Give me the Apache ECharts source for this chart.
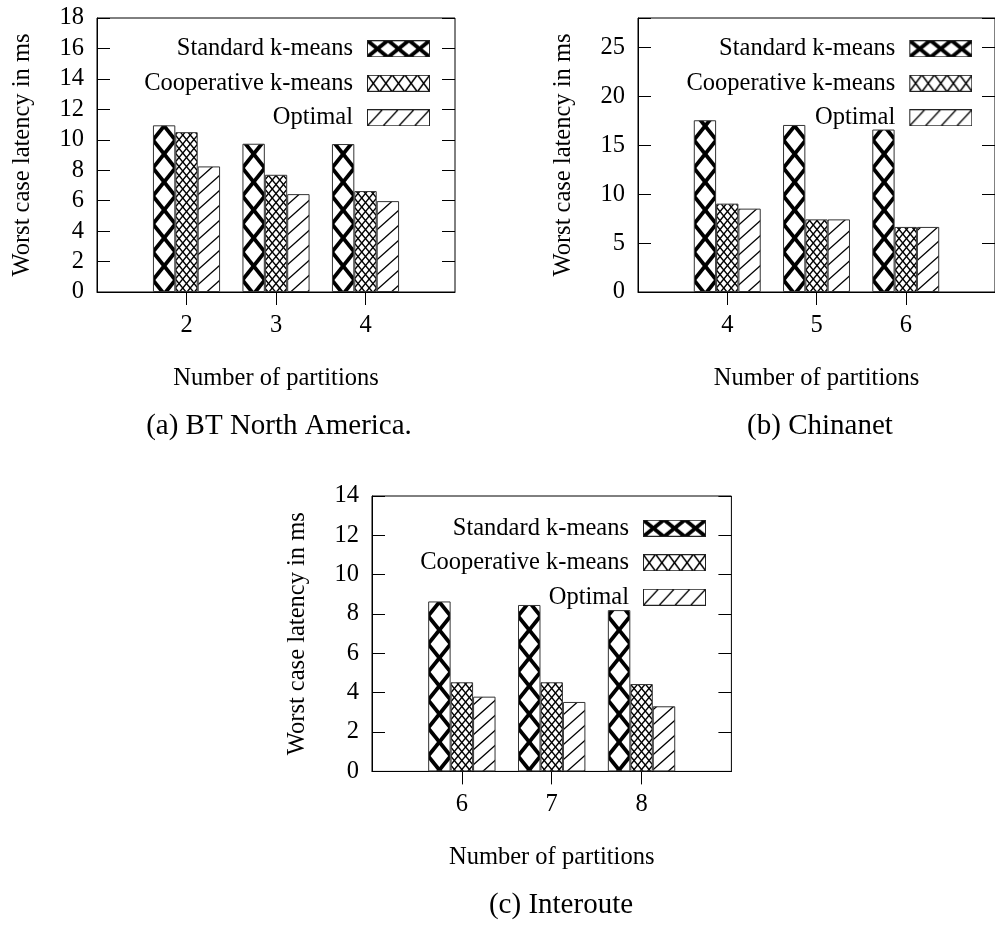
<!DOCTYPE html>
<html>
<head>
<meta charset="utf-8">
<script src="https://cdn.jsdelivr.net/npm/echarts@6/dist/echarts.min.js"></script>
<style>
html,body{margin:0;padding:0;background:#fff;}
#chart{width:995px;height:925px;}
</style>
</head>
<body>
<div id="chart"></div>
<script>
// ---------- data ----------
const seriesNames = ['Standard k-means', 'Cooperative k-means', 'Optimal'];

const catsA = [2, 3, 4];
const stdA  = [10.95, 9.74, 9.72];
const coopA = [10.5, 7.7, 6.63];
const optA  = [8.25, 6.43, 5.97];

const catsB = [4, 5, 6];
const stdB  = [17.55, 17.07, 16.6];
const coopB = [9.03, 7.42, 6.65];
const optB  = [8.52, 7.42, 6.65];

const catsC = [6, 7, 8];
const stdC  = [8.64, 8.46, 8.2];
const coopC = [4.53, 4.53, 4.44];
const optC  = [3.8, 3.53, 3.31];

const xLabel = 'Number of partitions';
const yLabel = 'Worst case latency in ms';
const captions = ['(a) BT North America.', '(b) Chinanet', '(c) Interoute'];

// ---------- layout / style ----------
const FONT = 'Liberation Serif';
const CW = 995;
const panels = [
  {cats: catsA, vals: [stdA, coopA, optA], xMin: 1, xMax: 5, yMax: 18, yStep: 2,
   grid: {left: 97, top: 18, width: 358, height: 274}, legRight: 565, legTop: 36.3,
   cap: captions[0], capX: 279, capY: 427},
  {cats: catsB, vals: [stdB, coopB, optB], xMin: 3, xMax: 7, yMax: 28, yStep: 5,
   grid: {left: 638, top: 18, width: 358, height: 274}, legRight: 22.7, legTop: 36.3,
   cap: captions[1], capX: 820, capY: 427},
  {cats: catsC, vals: [stdC, coopC, optC], xMin: 5, xMax: 9, yMax: 14, yStep: 2,
   grid: {left: 372, top: 496, width: 359.4, height: 275.4}, legRight: 289, legTop: 515.7,
   cap: captions[2], capX: 561, capY: 905.5}
];

// hatch pattern anchored at canvas origin; cells aligned to bar left edge x0
function hatch(kind, x0, cellW, tileH, lw) {
  const cv = document.createElement('canvas');
  cv.width = CW; cv.height = tileH;
  const ctx = cv.getContext('2d');
  ctx.fillStyle = '#fff';
  ctx.fillRect(0, 0, CW, tileH);
  ctx.strokeStyle = '#000';
  ctx.lineWidth = lw;
  const s = kind === 'diag' ? 20 / cellW : tileH / cellW;
  const fams = kind === 'diag' ? [-1] : [1, -1];
  fams.forEach(function (sign) {
    const span = CW * s + tileH * 4;
    const jmin = Math.floor(-span / tileH) - 2;
    const jmax = Math.ceil(span / tileH) + 2;
    for (let j = jmin; j <= jmax; j++) {
      const ya = sign * (0 - x0) * s + j * tileH;
      const yb = sign * (CW - x0) * s + j * tileH;
      if (Math.max(ya, yb) < -lw || Math.min(ya, yb) > tileH + lw) continue;
      ctx.beginPath();
      ctx.moveTo(0, ya);
      ctx.lineTo(CW, yb);
      ctx.stroke();
    }
  });
  return {image: cv, repeat: 'repeat'};
}

function legendIcon(kind) {
  const cv = document.createElement('canvas');
  cv.width = 72; cv.height = 17;
  const ctx = cv.getContext('2d');
  const bx = 9, bw = 63, bh = 17;
  ctx.save();
  ctx.beginPath();
  ctx.rect(bx, 0, bw, bh);
  ctx.fillStyle = '#fff';
  ctx.fill();
  ctx.clip();
  ctx.strokeStyle = '#000';
  if (kind === 'std' || kind === 'coop') {
    const n = kind === 'std' ? 3 : 5;
    const w = bw / n;
    ctx.lineWidth = kind === 'std' ? 3.8 : 1.5;
    for (let k = 0; k < n; k++) {
      ctx.beginPath();
      ctx.moveTo(bx + k * w, 0); ctx.lineTo(bx + (k + 1) * w, bh);
      ctx.moveTo(bx + k * w, bh); ctx.lineTo(bx + (k + 1) * w, 0);
      ctx.stroke();
    }
  } else {
    const w = bw / 4;
    ctx.lineWidth = 1.3;
    for (let k = -1; k <= 4; k++) {
      ctx.beginPath();
      ctx.moveTo(bx + k * w, bh); ctx.lineTo(bx + (k + 1) * w, 0);
      ctx.stroke();
    }
  }
  ctx.restore();
  ctx.strokeStyle = '#222';
  ctx.lineWidth = 1;
  ctx.strokeRect(bx + 0.5, 0.5, bw - 1, bh - 1);
  return 'image://' + cv.toDataURL();
}

const icons = [legendIcon('std'), legendIcon('coop'), legendIcon('opt')];

const txt = {fontFamily: FONT, fontSize: 24.5, color: '#000'};
const tickStyle = {show: true, inside: true, length: 13, lineStyle: {color: '#000', width: 1}};
const grids = [], xAxes = [], yAxes = [], series = [], legends = [], titles = [];

panels.forEach(function (p, k) {
  grids.push(Object.assign({show: true, borderColor: '#000', borderWidth: 1,
    backgroundColor: 'transparent', containLabel: false}, p.grid));
  const unit = p.grid.width / (p.xMax - p.xMin);
  const bw = unit * 0.25;
  xAxes.push({
    type: 'value', gridIndex: k, position: 'bottom', min: p.xMin, max: p.xMax, interval: 1,
    axisLine: {show: true, lineStyle: {color: '#000', width: 1}},
    axisTick: Object.assign({customValues: p.cats}, tickStyle),
    axisLabel: Object.assign({margin: 21, customValues: p.cats}, txt),
    splitLine: {show: false},
    name: xLabel, nameLocation: 'middle', nameGap: 74, nameTextStyle: txt
  });
  xAxes.push({
    type: 'value', gridIndex: k, position: 'top', min: p.xMin, max: p.xMax, interval: 1,
    axisLine: {show: false},
    axisTick: Object.assign({customValues: p.cats}, tickStyle),
    axisLabel: {show: false}, splitLine: {show: false}
  });
  yAxes.push({
    type: 'value', gridIndex: k, position: 'left', min: 0, max: p.yMax, interval: p.yStep,
    axisLine: {show: true, lineStyle: {color: '#000', width: 1}},
    axisTick: tickStyle,
    axisLabel: Object.assign({margin: 13, formatter: function (v) {
      return v % p.yStep === 0 ? String(v) : '';
    }}, txt),
    splitLine: {show: false},
    name: yLabel, nameLocation: 'middle', nameGap: 62, nameTextStyle: txt
  });
  yAxes.push({
    type: 'value', gridIndex: k, position: 'right', min: 0, max: p.yMax, interval: p.yStep,
    axisLine: {show: false},
    axisTick: tickStyle,
    axisLabel: {show: false}, splitLine: {show: false}
  });
  const firstCenter = p.grid.left + (p.cats[0] - p.xMin) * unit;
  const patterns = [
    hatch('x', firstCenter - 1.5 * bw, bw, 28, 3.8),
    hatch('x', firstCenter - 0.5 * bw, bw / 3, 9, 1.4),
    hatch('diag', firstCenter + 0.5 * bw, bw, 15, 1.3)
  ];
  seriesNames.forEach(function (name, i) {
    series.push({
      type: 'bar', name: name, xAxisIndex: 2 * k, yAxisIndex: 2 * k,
      data: p.cats.map(function (c, j) { return [c, p.vals[i][j]]; }),
      barWidth: '25%', barGap: '0%',
      itemStyle: {color: patterns[i], borderColor: '#333', borderWidth: 1},
      emphasis: {disabled: true}, silent: true, animation: false
    });
  });
  legends.push({
    orient: 'vertical', align: 'right', right: p.legRight, top: p.legTop, padding: 0,
    itemGap: 9.5, itemWidth: 72, itemHeight: 17, selectedMode: false,
    textStyle: txt,
    data: seriesNames.map(function (n, i) { return {name: n, icon: icons[i]}; })
  });
  titles.push({
    text: p.cap, left: p.capX, top: p.capY - 15, textAlign: 'center', padding: 0,
    textStyle: {fontFamily: FONT, fontSize: 29, fontWeight: 'normal', color: '#000'}
  });
});

const chart = echarts.init(document.getElementById('chart'), null, {renderer: 'canvas'});
chart.setOption({
  backgroundColor: '#fff',
  animation: false,
  title: titles,
  legend: legends,
  grid: grids,
  xAxis: xAxes,
  yAxis: yAxes,
  series: series
});
</script>
</body>
</html>
